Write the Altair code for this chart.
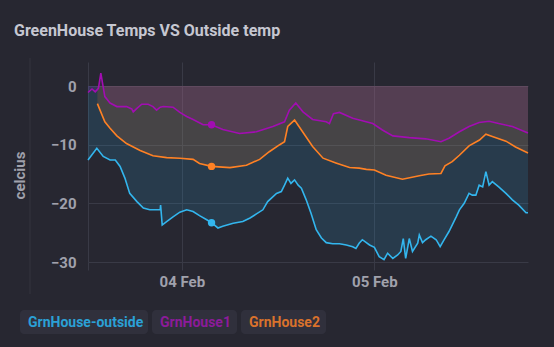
import altair as alt
import pandas as pd

# ---------------- data ----------------
series_names = ["GrnHouse-outside", "GrnHouse1", "GrnHouse2"]
line_colors = ["#33b6ee", "#a20db2", "#ff8124"]
legend_text_colors = ["#2ba0d6", "#8c1b9a", "#d9722c"]

# hours since 03 Feb 00:00
outside_hours = [12.3, 13.4, 14.2, 15.05, 15.7, 16.3, 16.9, 17.5, 18.4, 19.2, 20.0, 21.3, 21.35,
                 21.55, 22.1, 22.9, 23.75, 24.6, 25.4, 26.2, 27.1, 27.7, 28.5, 29.1, 30.4, 31.6,
                 32.5, 33.3, 34.1, 34.7, 35.8, 36.4, 36.8, 37.2, 37.6, 38.05, 38.5, 38.9, 39.5,
                 40.1, 40.75, 41.4, 42.0, 42.8, 43.65, 44.5, 45.3, 45.7, 46.1, 46.5, 47.4, 48.0,
                 48.6, 49.2, 49.65, 50.3, 50.9, 51.3, 51.6, 51.9, 52.35, 52.75, 53.4, 53.6, 54.0,
                 54.4, 55.05, 55.7, 56.2, 56.7, 57.3, 58.2, 58.6, 59.2, 59.8, 60.2, 60.65, 61.06,
                 61.5, 61.9, 62.3, 62.7, 63.5, 64.4, 65.2, 66.0, 66.9, 67.15]
outside_temps = [-12.6, -10.6, -12.0, -12.6, -12.6, -13.7, -15.7, -18.3, -19.7, -20.8, -21.1, -21.1, -20.3,
                 -23.7, -23.1, -22.3, -21.5, -21.1, -21.4, -22.1, -22.8, -23.3, -24.2, -23.9, -23.4, -23.1,
                 -22.5, -21.8, -21.1, -19.7, -18.3, -18.0, -16.9, -15.7, -16.6, -16.0, -16.9, -17.4, -19.4,
                 -21.7, -24.5, -25.9, -26.7, -26.9, -26.9, -27.1, -27.4, -27.7, -26.8, -26.2, -27.1, -27.5,
                 -29.1, -29.6, -28.5, -29.4, -28.8, -28.2, -26.0, -29.4, -26.0, -28.2, -26.8, -25.4, -26.7,
                 -26.2, -25.6, -26.2, -27.4, -26.2, -24.8, -22.3, -21.1, -20.0, -18.3, -18.6, -18.6, -16.9,
                 -17.2, -14.6, -16.9, -16.3, -17.2, -18.3, -19.4, -20.3, -21.6, -21.6]

gh1_hours = [12.3, 12.8, 13.2, 13.6, 13.9, 14.15, 14.4, 15.05, 15.9, 17.1, 17.75, 17.94, 18.4, 19.0,
             19.8, 20.4, 20.85, 21.3, 21.7, 22.9, 23.75, 24.6, 25.4, 26.65, 27.7, 29.1, 31.2, 33.3,
             35.35, 36.8, 37.4, 38.2, 39.1, 40.3, 42.0, 42.4, 42.9, 43.65, 45.3, 46.97, 47.8, 49.0,
             50.3, 52.35, 54.4, 56.3, 57.3, 58.6, 59.8, 61.06, 62.3, 63.5, 65.2, 67.15]
gh1_temps = [-1.1, -0.5, -1.0, -0.4, 2.2, 0.2, -1.8, -2.9, -3.5, -3.5, -3.9, -4.4, -3.8, -3.1,
             -3.1, -3.5, -4.1, -3.6, -3.5, -3.6, -4.5, -5.2, -5.7, -6.6, -6.6, -7.4, -8.1, -7.8,
             -6.9, -6.1, -4.1, -2.9, -4.4, -5.7, -6.1, -6.4, -4.7, -4.5, -5.5, -6.1, -6.4, -7.5,
             -8.5, -8.8, -9.0, -9.5, -8.9, -7.8, -6.9, -6.2, -6.0, -6.4, -6.9, -8.0]

gh2_hours = [13.47, 13.8, 14.4, 15.05, 15.9, 17.1, 18.8, 20.4, 22.1, 23.75, 25.4, 26.2, 27.7, 30.0,
             32.05, 33.7, 34.9, 36.2, 36.8, 37.2, 38.05, 38.9, 40.3, 41.6, 43.2, 44.9, 46.1, 47.0,
             48.0, 49.45, 51.5, 53.6, 54.8, 56.3, 56.8, 57.7, 58.6, 59.8, 61.1, 61.9, 62.7, 64.4,
             65.6, 67.15]
gh2_temps = [-3.0, -4.1, -6.1, -7.2, -8.5, -9.8, -11.0, -11.9, -12.2, -12.3, -12.5, -13.2, -13.7, -13.9,
             -13.5, -12.5, -11.2, -10.0, -9.5, -6.9, -5.8, -7.5, -10.3, -12.3, -13.1, -13.9, -14.0, -14.2,
             -14.3, -15.2, -15.9, -15.3, -15.0, -14.9, -13.6, -12.9, -11.8, -10.2, -9.2, -8.2, -8.6, -9.4,
             -10.4, -11.4]

# hovered markers
marker_hours = 27.7
marker_temps = [-23.3, -6.6, -13.7]

x_range_hours = [12.3, 67.15]
x_label_hours = [24, 48]
y_ticks = [0, -10, -20, -30]
y_domain = [-30, 4.1]

# ---------------- styling ----------------
GRID = "#393a46"
LABEL = "#a0a1ac"
FONT = "Roboto"
CHIP = "#30303c"
chip_widths = [128, 85, 85]     # legend chip widths (px)
CHIP_GAP = 4
CHIP_H = 24
CHIP_PAD = 8
LEGEND_LEFT = -68               # relative to plot origin
LEGEND_TOP = 248

# ---------------- build ----------------
base = pd.Timestamp("2023-02-03", tz="UTC")


def to_ms(h):
    return int((base + pd.Timedelta(hours=h)).value // 10**6)


rows = []
for name, hrs, temps in zip(series_names,
                            [outside_hours, gh1_hours, gh2_hours],
                            [outside_temps, gh1_temps, gh2_temps]):
    for h, v in zip(hrs, temps):
        rows.append({"t": to_ms(h), "v": v, "s": name})
df = pd.DataFrame(rows)

mk = pd.DataFrame({"t": [to_ms(marker_hours)] * 3, "v": marker_temps, "s": series_names})

xenc = alt.X(
    "t:T",
    scale=alt.Scale(type="utc", domain=[to_ms(x_range_hours[0]), to_ms(x_range_hours[1])]),
    axis=alt.Axis(
        values=[to_ms(x_range_hours[0])] + [to_ms(h) for h in x_label_hours],
        format="%d %b",
        labelExpr="utchours(datum.value) == 0 ? datum.label : ''",
        title=None,
        domain=False,
        grid=True,
        gridColor=GRID,
        tickColor=GRID,
        tickSize=8,
        labelPadding=4,
        labelFont=FONT,
        labelFontSize=15,
        labelFontWeight="bold",
        labelColor=LABEL,
    ),
)
yscale = alt.Scale(domain=y_domain, nice=False, zero=False)
yenc = alt.Y(
    "v:Q",
    stack=None,
    scale=yscale,
    axis=alt.Axis(
        values=y_ticks,
        title="celcius",
        titleX=-69,
        titleY=113,
        titleAngle=270,
        titleAlign="center",
        titleBaseline="middle",
        titleFont=FONT,
        titleFontSize=15,
        titleFontWeight="bold",
        titleColor=LABEL,
        domain=False,
        ticks=False,
        grid=True,
        gridColor=GRID,
        labelPadding=12,
        labelFont=FONT,
        labelFontSize=15,
        labelFontWeight="bold",
        labelColor=LABEL,
    ),
)
cscale = alt.Scale(domain=series_names, range=line_colors)

areas = alt.Chart(df).mark_area(opacity=0.14).encode(
    x=xenc, y=yenc, y2=alt.datum(0),
    color=alt.Color("s:N", scale=cscale, legend=None),
)
lines = alt.Chart(df).mark_line(strokeWidth=1.6).encode(
    x=xenc, y=yenc,
    color=alt.Color("s:N", scale=cscale, legend=None),
)
points = alt.Chart(mk).mark_circle(size=55, opacity=1).encode(
    x=xenc, y=yenc,
    color=alt.Color("s:N", scale=cscale, legend=None),
)
side_rule = alt.Chart(pd.DataFrame({"k": [0]})).mark_rule(color="#34353f", strokeWidth=1).encode(
    x=alt.value(-58), y=alt.value(-4), y2=alt.value(232)
)

# legend chips (one chip per series, laid out left to right)
legend_layers = []
left = LEGEND_LEFT
for name, tcol, w in zip(series_names, legend_text_colors, chip_widths):
    one = pd.DataFrame({"s": [name]})
    legend_layers.append(
        alt.Chart(one).mark_rect(color=CHIP, cornerRadius=4).encode(
            x=alt.value(left), x2=alt.value(left + w),
            y=alt.value(LEGEND_TOP), y2=alt.value(LEGEND_TOP + CHIP_H),
        )
    )
    legend_layers.append(
        alt.Chart(one).mark_text(align="left", baseline="middle", font=FONT, fontSize=14,
                                 fontWeight="bold", color=tcol).encode(
            x=alt.value(left + CHIP_PAD), y=alt.value(LEGEND_TOP + CHIP_H / 2 + 0.5),
            text=alt.Text("s:N"),
        )
    )
    left += w + CHIP_GAP

chart = alt.layer(areas, lines, points, side_rule, *legend_layers).properties(
    width=440,
    height=200,
    autosize=alt.AutoSizeParams(type="none"),
    padding={"left": 88, "top": 62, "right": 26, "bottom": 85},
    title=alt.TitleParams(
        "GreenHouse Temps VS Outside temp",
        anchor="start",
        frame="group",
        dx=-74,
        offset=6,
        baseline="alphabetic",
        font=FONT,
        fontSize=16,
        fontWeight="bold",
        color="#c6c7d1",
    ),
).configure(background="#272731").configure_view(stroke=None)

chart.save("out.html", embed_options={"renderer": "svg", "actions": False})
